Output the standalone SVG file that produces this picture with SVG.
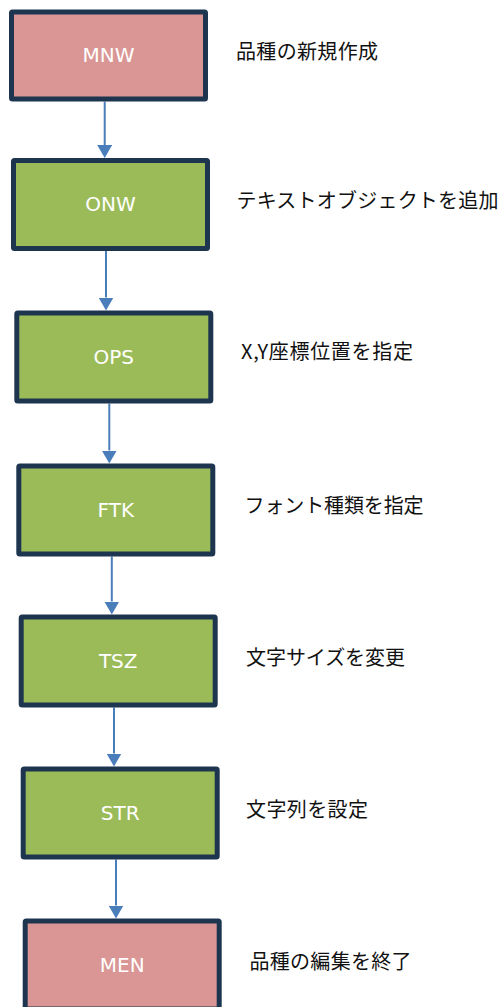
<svg xmlns="http://www.w3.org/2000/svg" width="502" height="1007" viewBox="0 0 502 1007">
  <style>
    .box { stroke: #1E3550; stroke-width: 5; stroke-linejoin: round; }
    .start { fill: #D99694; }
    .step { fill: #9BBB59; }
    .code { font-family: "DejaVu Sans", "Liberation Sans", sans-serif; font-size: 20px; fill: #FFFFFF; text-anchor: middle; }
    .label { font-family: "Noto Sans CJK JP", "Noto Sans", sans-serif; font-size: 20px; fill: #111111; }
    .conn { stroke: #4A7EBB; stroke-width: 2; fill: none; marker-end: url(#arrow); }
  </style>
  <defs>
    <marker id="arrow" markerUnits="userSpaceOnUse" viewBox="0 0 13 15" markerWidth="13" markerHeight="15" refX="0" refY="7.5" orient="auto">
      <path d="M0,0 L13,7.5 L0,15 Z" fill="#4A7EBB"/>
    </marker>
  </defs>
  <rect width="502" height="1007" fill="#FFFFFF"/>

  <g id="connectors">
    <line class="conn" x1="104.7" y1="101.5" x2="104.7" y2="145"/>
    <line class="conn" x1="106" y1="250.5" x2="106" y2="297.5"/>
    <line class="conn" x1="109.3" y1="403.5" x2="109.3" y2="450.5"/>
    <line class="conn" x1="111.8" y1="556.5" x2="111.8" y2="601.5"/>
    <line class="conn" x1="114" y1="707.5" x2="114" y2="753.5"/>
    <line class="conn" x1="116" y1="859.5" x2="116" y2="905.5"/>
  </g>

  <g id="MNW">
    <rect class="box start" x="11.5" y="12" width="194" height="87" rx="1"/>
    <text class="code" x="108.5" y="61.5">MNW</text>
  </g>
  <g id="ONW">
    <rect class="box step" x="13.5" y="160.5" width="194" height="88" rx="1"/>
    <text class="code" x="110.5" y="211">ONW</text>
  </g>
  <g id="OPS">
    <rect class="box step" x="16.8" y="313" width="194" height="88" rx="1"/>
    <text class="code" x="113.8" y="363.5">OPS</text>
  </g>
  <g id="FTK">
    <rect class="box step" x="18.8" y="466" width="194" height="88" rx="1"/>
    <text class="code" x="115.8" y="516.5">FTK</text>
  </g>
  <g id="TSZ">
    <rect class="box step" x="21.2" y="617" width="194" height="88" rx="1"/>
    <text class="code" x="118.2" y="667.5">TSZ</text>
  </g>
  <g id="STR">
    <rect class="box step" x="23.2" y="769" width="194" height="88" rx="1"/>
    <text class="code" x="120.2" y="819.5">STR</text>
  </g>
  <g id="MEN">
    <rect class="box start" x="25.2" y="921" width="194" height="88" rx="1"/>
    <text class="code" x="122.2" y="971.5">MEN</text>
  </g>

  <g id="labels">
    <text class="label" x="236" y="58.5" textLength="142">品種の新規作成</text>
    <text class="label" x="236.5" y="208" textLength="262">テキストオブジェクトを追加</text>
    <text class="label" x="241" y="358.5" textLength="172">X,Y座標位置を指定</text>
    <text class="label" x="244.5" y="513" textLength="179">フォント種類を指定</text>
    <text class="label" x="246" y="665" textLength="159">文字サイズを変更</text>
    <text class="label" x="246" y="816.5" textLength="122">文字列を設定</text>
    <text class="label" x="249.5" y="968.5" textLength="162">品種の編集を終了</text>
  </g>
</svg>
